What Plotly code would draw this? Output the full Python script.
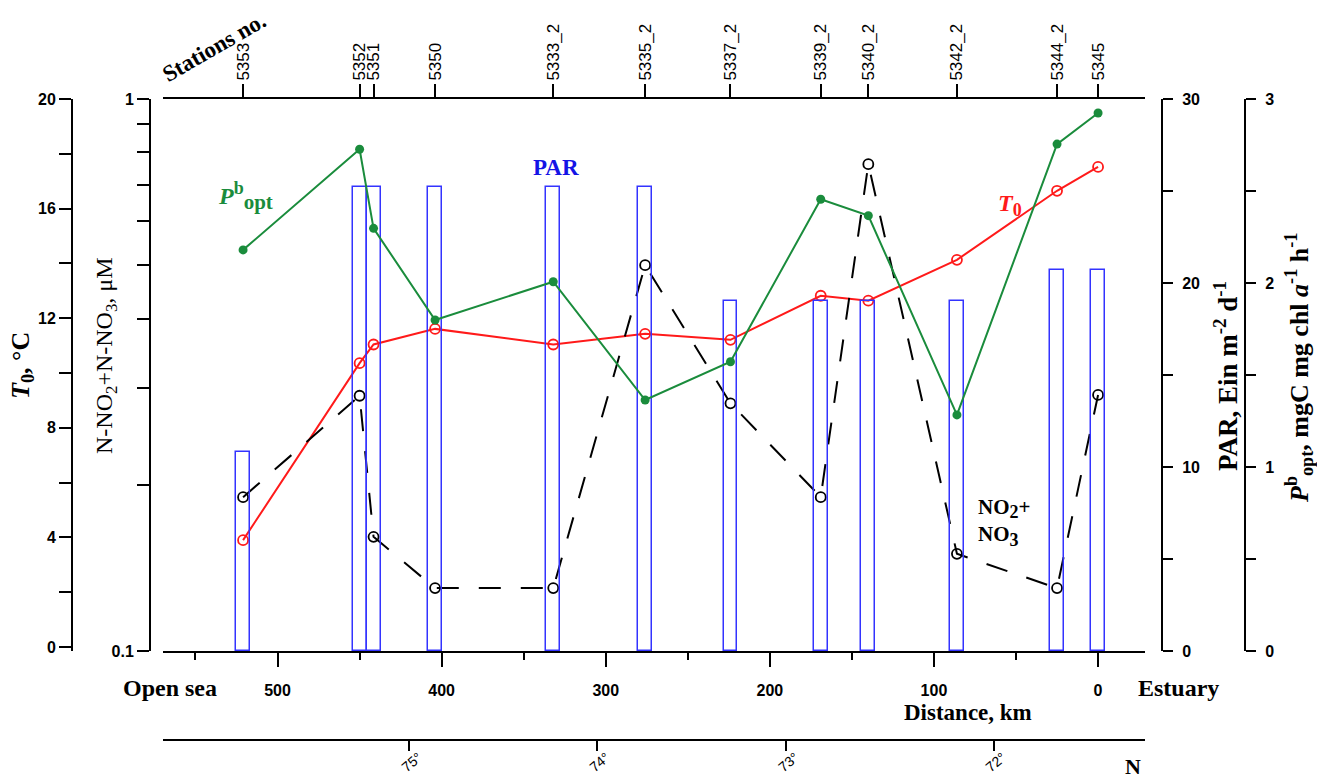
import plotly.graph_objects as go

# ---------------- data ----------------
stations = ["5353", "5352", "5351", "5350", "5333_2", "5335_2", "5337_2",
            "5339_2", "5340_2", "5342_2", "5344_2", "5345"]
distance_km = [521, 450, 441.5, 404, 332, 276, 224, 169, 140, 86, 25, 0]
par = [10.8, 25.2, 25.2, 25.2, 25.2, 25.2, 19.0, 19.0, 19.0, 19.0, 20.7, 20.7]
t0 = [3.90, 10.36, 11.04, 11.61, 11.04, 11.43, 11.21, 12.82, 12.64, 14.13, 16.65, 17.52]
nitrate = [0.190, 0.290, 0.161, 0.130, 0.130, 0.500, 0.281, 0.190, 0.762, 0.150, 0.130, 0.291]
pbopt = [2.18, 2.727, 2.297, 1.799, 2.007, 1.364, 1.572, 2.455, 2.366, 1.283, 2.755, 2.924]

dist_ticks = [0, 100, 200, 300, 400, 500]
dist_minor = [50, 150, 250, 350, 450, 550]
lat_labels = ["75°", "74°", "73°", "72°"]
lat_pos_km = [419.6, 305.1, 190.0, 63.7]
t_ticks = [0, 2, 4, 6, 8, 10, 12, 14, 16, 18, 20]
t_text = ["0", "", "4", "", "8", "", "12", "", "16", "", "20"]
n_ticks = [0.1, 0.2, 0.3, 0.4, 0.5, 0.6, 0.7, 0.8, 0.9, 1]
n_text = ["0.1", "", "", "", "", "", "", "", "", "1"]
par_ticks = [0, 5, 10, 15, 20, 25, 30]
par_text = ["0", "", "10", "", "20", "", "30"]
p_ticks = [0, 0.5, 1, 1.5, 2, 2.5, 3]
p_text = ["0", "", "1", "", "2", "", "3"]

SERIF = "Liberation Serif"
SANS = "Liberation Sans"
W, H = 1317, 779
PX0, PX1 = 72, 1245      # paper x extent in px
PY0, PY1 = 99, 740       # paper y extent in px (top, bottom)
GREEN = "#1a8c3c"
RED = "#ff1a1a"
BLUE = "#3333ff"


def px(x):
    return (x - PX0) / (PX1 - PX0)


def py(y):
    return (PY1 - y) / (PY1 - PY0)


XR = [569.8, -28.6]
XDOM = [px(163), px(1145)]
YDOM = [py(651), 1]

fig = go.Figure()

fig.add_trace(go.Bar(x=distance_km, y=par, width=8.5, yaxis="y3", xaxis="x",
                     marker=dict(color="rgba(0,0,0,0)",
                                 line=dict(color=BLUE, width=1.5)),
                     showlegend=False))
fig.add_trace(go.Scatter(x=distance_km, y=nitrate, yaxis="y2", mode="lines+markers",
                         line=dict(color="black", width=2, dash="22px,20px"),
                         marker=dict(symbol="circle-open", size=10, color="black",
                                     line=dict(width=1.8)),
                         showlegend=False))
fig.add_trace(go.Scatter(x=distance_km, y=t0, yaxis="y", mode="lines+markers",
                         line=dict(color=RED, width=2),
                         marker=dict(symbol="circle-open", size=10, color=RED,
                                     line=dict(width=1.8)),
                         showlegend=False))
fig.add_trace(go.Scatter(x=distance_km, y=pbopt, yaxis="y4", mode="lines+markers",
                         line=dict(color=GREEN, width=2),
                         marker=dict(symbol="circle", size=9, color=GREEN),
                         showlegend=False))
# invisible traces to activate the extra x axes
fig.add_trace(go.Scatter(x=[0], y=[0], xaxis="x2", yaxis="y", mode="markers",
                         marker=dict(opacity=0), showlegend=False, hoverinfo="skip"))
fig.add_trace(go.Scatter(x=[0], y=[0], xaxis="x3", yaxis="y", mode="markers",
                         marker=dict(opacity=0), showlegend=False, hoverinfo="skip"))

axline = dict(showline=True, linecolor="black", linewidth=2, showgrid=False,
              zeroline=False, ticks="outside", tickcolor="black", tickwidth=2)
boldtick = dict(family=SANS, size=16, color="black", weight="bold")

fig.update_layout(
    width=W, height=H, template="none",
    paper_bgcolor="white", plot_bgcolor="rgba(0,0,0,0)",
    margin=dict(l=PX0, r=W - PX1, t=PY0, b=H - PY1, autoexpand=False),
    showlegend=False, bargap=0,
    xaxis=dict(**axline, domain=XDOM, range=XR, anchor="y",
               tickvals=dist_ticks, ticklen=14, ticklabelstandoff=10,
               tickfont=boldtick,
               minor=dict(tickvals=dist_minor, ticks="outside", ticklen=7,
                          tickwidth=2, tickcolor="black")),
    xaxis2=dict(**axline, overlaying="x", side="top", anchor="y", range=XR,
                tickvals=distance_km, ticktext=stations, tickangle=-90, ticklen=13,
                tickfont=dict(family=SANS, size=17, color="black")),
    xaxis3=dict(**axline, overlaying="x", side="bottom", anchor="free", position=0,
                range=XR, tickvals=lat_pos_km, ticktext=lat_labels, tickangle=-40,
                ticklen=10, ticklabelstandoff=-7, ticklabelshift=-9,
                tickfont=dict(family=SANS, size=14, color="black")),
    yaxis=dict(**axline, domain=YDOM, anchor="free", position=0, side="left",
               range=[-0.146, 20.0], tickvals=t_ticks, ticktext=t_text, ticklen=12,
               tickfont=boldtick),
    yaxis2=dict(**axline, overlaying="y", anchor="free", position=px(150), side="left",
                type="log", range=[-1, 0], tickvals=n_ticks, ticktext=n_text, ticklen=12,
                tickfont=boldtick),
    yaxis3=dict(**axline, overlaying="y", anchor="free", position=px(1162), side="right",
                range=[0, 30], tickvals=par_ticks, ticktext=par_text, ticklen=10,
                ticklabelstandoff=6, tickfont=boldtick),
    yaxis4=dict(**axline, overlaying="y", anchor="free", position=1, side="right",
                range=[0, 3], tickvals=p_ticks, ticktext=p_text, ticklen=10,
                ticklabelstandoff=6, tickfont=boldtick),
)


def ann(text, x, y, size=19, color="black", bold=True, angle=0, family=SERIF,
        xanchor="center", align="center"):
    fig.add_annotation(text=text, x=px(x), y=py(y), xref="paper", yref="paper",
                       showarrow=False, textangle=angle, xanchor=xanchor,
                       yanchor="middle", align=align,
                       font=dict(family=family, size=size, color=color,
                                 weight="bold" if bold else "normal"))


def big(s, size):
    return f'<span style="font-size:{size}px">{s}</span>'


ann("Stations no.", 214, 48, size=23, angle=-30)
ann("<i>P</i><sup>" + big("b", 18) + "</sup><sub>" + big("opt", 21) + "</sub>",
    245, 196, size=24, color=GREEN)
ann("PAR", 556, 167, size=23, color="#1414e6")
ann("<i>T</i><sub>" + big("0", 18) + "</sub>", 1010, 205, size=24, color=RED)
ann("NO<sub>" + big("2", 18) + "</sub>+<br>NO<sub>" + big("3", 18) + "</sub>",
    976, 522, size=21, bold=True, xanchor="left", align="left")
ann("<i>T</i><sub>0</sub>, °C", 22, 366, size=26, angle=-90)
ann("N-NO<sub>2</sub>+N-NO<sub>3</sub>, μM", 106, 356, size=24, bold=False, angle=-90)
ann("PAR, Ein m<sup>-2</sup> d<sup>-1</sup>", 1226, 376, size=27, angle=-90)
ann("<i>P</i><sup>b</sup><sub>opt</sub>, mgC mg chl <i>a</i><sup>-1</sup> h<sup>-1</sup>",
    1299, 368, size=26, angle=-90)
ann("Open sea", 170, 688, size=24)
ann("Estuary", 1178, 688, size=24)
ann("Distance, km", 968, 712, size=23)
ann("N", 1133, 766, size=22)

fig.write_html("out.html", config={"displayModeBar": False},
               post_script="document.body.style.margin='0px';"
                           "document.body.style.overflow='hidden';")
